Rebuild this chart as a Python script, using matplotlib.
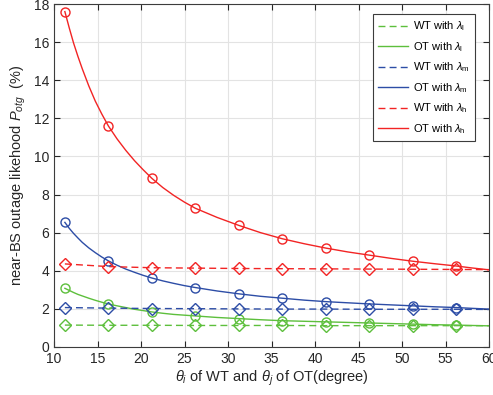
"""
Near-BS outage likelihood vs. beam angle for WT and OT.
Saves out.png.
"""
import matplotlib
matplotlib.use('Agg')
import matplotlib.pyplot as plt

# marker positions (degree)
theta_pts = [11.25, 16.25, 21.25, 26.25, 31.25, 36.25, 41.25, 46.25, 51.25, 56.25]

# WT (diamonds), values in %
wt_low = [1.15, 1.14, 1.14, 1.13, 1.13, 1.13, 1.12, 1.12, 1.12, 1.12]
wt_mid = [2.07, 2.04, 2.02, 2.01, 2.00, 1.99, 1.99, 1.98, 1.98, 1.98]
wt_high = [4.36, 4.22, 4.16, 4.14, 4.12, 4.11, 4.10, 4.09, 4.08, 4.07]

# OT (circles), values in %
ot_low = [3.08, 2.26, 1.84, 1.63, 1.49, 1.38, 1.32, 1.26, 1.20, 1.15]
ot_mid = [6.54, 4.52, 3.62, 3.12, 2.79, 2.56, 2.38, 2.26, 2.16, 2.07]
ot_high = [17.6, 11.6, 8.85, 7.28, 6.38, 5.68, 5.19, 4.82, 4.50, 4.25]

# OT curves, read at more angles
theta_curve = [11.25, 11.75, 12.25, 12.75, 13.25, 14, 14.75, 15.5, 16.25, 17.25,
               18.25, 19.25, 20.25, 21.25, 22.5, 23.75, 25, 26.25, 28.75, 31.25,
               33.75, 36.25, 38.75, 41.25, 43.75, 46.25, 48.75, 51.25, 53.75, 56.25,
               58, 60]
ot_low_curve = [3.08, 2.97, 2.86, 2.76, 2.68, 2.56, 2.45, 2.35, 2.26, 2.16,
                2.07, 1.98, 1.91, 1.84, 1.77, 1.71, 1.67, 1.63, 1.55, 1.49,
                1.43, 1.38, 1.35, 1.32, 1.29, 1.26, 1.23, 1.20, 1.17, 1.15,
                1.13, 1.11]
ot_mid_curve = [6.54, 6.23, 5.96, 5.72, 5.49, 5.20, 4.95, 4.72, 4.52, 4.29,
                4.09, 3.92, 3.76, 3.62, 3.47, 3.34, 3.22, 3.12, 2.94, 2.79,
                2.66, 2.56, 2.46, 2.38, 2.32, 2.26, 2.21, 2.16, 2.11, 2.07,
                2.03, 1.99]
ot_high_curve = [17.6, 16.75, 15.95, 15.25, 14.6, 13.7, 12.9, 12.22, 11.6, 10.92,
                 10.32, 9.78, 9.30, 8.85, 8.37, 7.96, 7.60, 7.28, 6.80, 6.38,
                 6.00, 5.68, 5.42, 5.19, 4.99, 4.82, 4.65, 4.50, 4.37, 4.25,
                 4.15, 4.05]

# WT dashed lines run on to the right edge
theta_wt_curve = theta_pts + [60]
wt_low_curve = wt_low + [1.12]
wt_mid_curve = wt_mid + [1.97]
wt_high_curve = wt_high + [4.06]

GREEN = '#5dbf3c'
BLUE = '#2d4da6'
RED = '#f22424'
DARK = '#262626'

plt.rcParams['font.family'] = ['Liberation Sans', 'DejaVu Sans']
plt.rcParams['mathtext.fontset'] = 'custom'
plt.rcParams['mathtext.rm'] = 'Liberation Sans'
plt.rcParams['mathtext.it'] = 'Liberation Sans:italic'
plt.rcParams['mathtext.bf'] = 'Liberation Sans:bold'

fig = plt.figure(figsize=(4.93, 3.95), dpi=100)
ax = fig.add_axes([54 / 493, 48 / 395, 435 / 493, 343 / 395])

series = [
    (theta_wt_curve, wt_low_curve, wt_low, GREEN, '--', 'D', r'WT with $\lambda_\mathrm{l}$'),
    (theta_curve, ot_low_curve, ot_low, GREEN, '-', 'o', r'OT with $\lambda_\mathrm{l}$'),
    (theta_wt_curve, wt_mid_curve, wt_mid, BLUE, '--', 'D', r'WT with $\lambda_\mathrm{m}$'),
    (theta_curve, ot_mid_curve, ot_mid, BLUE, '-', 'o', r'OT with $\lambda_\mathrm{m}$'),
    (theta_wt_curve, wt_high_curve, wt_high, RED, '--', 'D', r'WT with $\lambda_\mathrm{h}$'),
    (theta_curve, ot_high_curve, ot_high, RED, '-', 'o', r'OT with $\lambda_\mathrm{h}$'),
]

handles = []
for xc, yc, ym, color, ls, mk, label in series:
    if ls == '--':
        h, = ax.plot(xc, yc, color=color, linewidth=1.0, dashes=(5, 3),
                     label=label, zorder=3)
    else:
        h, = ax.plot(xc, yc, color=color, linewidth=1.0, label=label, zorder=3)
    ms = 6 if mk == 'D' else 6.5
    ax.plot(theta_pts, ym, linestyle='none', marker=mk, markersize=ms,
            markerfacecolor='none', markeredgecolor=color, markeredgewidth=1.0, zorder=4)
    handles.append(h)

ax.set_xlim(10, 60)
ax.set_ylim(0, 18)
ax.set_xticks(range(10, 61, 5))
ax.set_yticks(range(0, 19, 2))
ax.grid(True, color='#e3e3e3', linewidth=0.8)
ax.set_axisbelow(True)
ax.tick_params(direction='in', top=True, right=True, labelsize=10,
               colors=DARK, length=4, width=0.8)
for sp in ax.spines.values():
    sp.set_color('#3c3c3c')
    sp.set_linewidth(0.8)

ax.set_xlabel(r'$\theta_i$ of WT and $\theta_j$ of OT(degree)', fontsize=10.5, color=DARK, labelpad=2)
ax.set_ylabel(r'near-BS outage likehood $P_{otg}$  (%)', fontsize=10.5, color=DARK, labelpad=4)

leg = ax.legend(handles=handles, loc='upper right', bbox_to_anchor=(0.973, 0.977),
                fontsize=8, handlelength=2.7, handletextpad=0.4, labelspacing=0.6,
                borderpad=0.5, borderaxespad=0.2, fancybox=False, framealpha=1,
                edgecolor='#3c3c3c')
leg.get_frame().set_linewidth(0.8)

plt.savefig('out.png', dpi=100)
plt.close()
